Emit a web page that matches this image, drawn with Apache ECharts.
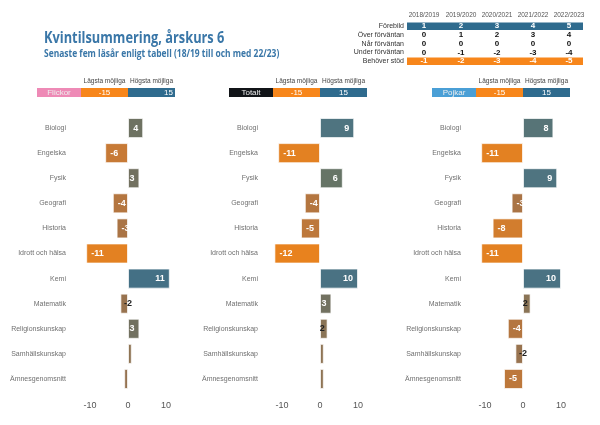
<!DOCTYPE html>
<html><head><meta charset="utf-8">
<script src="https://cdn.jsdelivr.net/npm/echarts@6/dist/echarts.min.js"></script>
<style>html,body{margin:0;padding:0;background:#fff}#c{width:600px;height:425px}</style>
</head><body><div id="c"></div>
<script>
var subjects = ['Biologi','Engelska','Fysik','Geografi','Historia','Idrott och hälsa','Kemi','Matematik','Religionskunskap','Samhällskunskap','Ämnesgenomsnitt'];
var flickor = [4,-6,3,-4,-3,-11,11,-2,3,1,-1];
var totalt  = [9,-11,6,-4,-5,-12,10,3,2,1,1];
var pojkar  = [8,-11,9,-3,-8,-11,10,2,-4,-2,-5];
var panelNames = ['Flickor','Totalt','Pojkar'];
var xTicks = [-10,0,10];
var years = ['2018/2019','2019/2020','2020/2021','2021/2022','2022/2023'];
var tableRows = ['Förebild','Över förväntan','Når förväntan','Under förväntan','Behöver stöd'];
var tableVals = [[1,2,3,4,5],[0,1,2,3,4],[0,0,0,0,0],[0,-1,-2,-3,-4],[-1,-2,-3,-4,-5]];
var lowest = -15, highest = 15;

var FONT = '"Liberation Sans", Arial, sans-serif';
var TFONT = '"Open Sans", sans-serif';
var stops = [[-12,'#E8821E'],[-6,'#C77A36'],[-3,'#AA7445'],[-2,'#98734F'],[2,'#8A7456'],[3,'#727160'],[6,'#667466'],[9,'#4F7480'],[12,'#3F6E88']];
function hex(c){return [parseInt(c.substr(1,2),16),parseInt(c.substr(3,2),16),parseInt(c.substr(5,2),16)];}
function colorFor(v){
  if(v<=stops[0][0]) return stops[0][1];
  for(var i=1;i<stops.length;i++){
    if(v<=stops[i][0]){
      var a=hex(stops[i-1][1]), b=hex(stops[i][1]);
      var t=(v-stops[i-1][0])/(stops[i][0]-stops[i-1][0]);
      return 'rgb('+a.map(function(x,k){return Math.round(x+(b[k]-x)*t);}).join(',')+')';
    }
  }
  return stops[stops.length-1][1];
}
function labelFor(v){
  var a=Math.abs(v);
  if(a<2) return {show:false};
  if(a===2) return {show:true, position:[v>0?'30%':'100%','50%'], align:'center', verticalAlign:'middle', color:'#222', fontWeight:'bold'};
  return {show:true, position: v>0?'insideRight':'insideLeft', color:'#fff', fontWeight:'bold', distance:5};
}
function items(vals){return vals.map(function(v){return {value:v,label:labelFor(v)};});}

var zeroX = [128, 320, 523];
var gridW = 114;
var grids=[], xAxes=[], yAxes=[], series=[];
var allVals=[flickor,totalt,pojkar];
for(var p=0;p<3;p++){
  grids.push({left: zeroX[p]-gridW/2, width: gridW, top: 115.5, height: 276});
  xAxes.push({type:'value', gridIndex:p, min:lowest, max:highest, interval:5,
    axisLine:{show:false}, axisTick:{show:false}, splitLine:{show:false},
    axisLabel:{margin:10, fontSize:9, color:'#555', fontFamily:FONT,
      formatter:function(v){return xTicks.indexOf(v)>=0? String(v):'';}}});
  yAxes.push({type:'category', gridIndex:p, data:subjects, inverse:true,
    axisLine:{show:false}, axisTick:{show:false},
    axisLabel:{margin:5, fontSize:7, color:'#707070', fontFamily:FONT}});
  series.push({type:'bar', xAxisIndex:p, yAxisIndex:p, data:items(allVals[p]), barWidth:'80%',
    itemStyle:{color:function(pr){return colorFor(pr.value);}, borderColor:'rgba(255,255,255,0.7)', borderWidth:1},
    label:{fontSize:9, fontFamily:FONT}});
}

var graphic=[];
graphic.push({type:'text', x:44, y:30, scaleX:0.8, style:{text:'Kvintilsummering, årskurs 6', font:'bold 16px '+TFONT, fill:'#3A77A8', verticalAlign:'top'}});
graphic.push({type:'text', x:44, y:49, scaleX:0.845, style:{text:'Senaste fem läsår enligt tabell (18/19 till och med 22/23)', font:'bold 10px '+TFONT, fill:'#3A77A8', verticalAlign:'top'}});
var nameColors=['#EE8AB6','#111418','#4A9FD6'];
var valAlign=['right','center','center'];
for(var p=0;p<3;p++){
  var z=zeroX[p];
  graphic.push({type:'rect', shape:{x:z-91,y:88,width:44,height:9}, style:{fill:nameColors[p]}});
  graphic.push({type:'rect', shape:{x:z-47,y:88,width:47,height:9}, style:{fill:'#F7861B'}});
  graphic.push({type:'rect', shape:{x:z,y:88,width:47,height:9}, style:{fill:'#2F6B8E'}});
  graphic.push({type:'text', x:z-69, y:92.5, style:{text:panelNames[p], font:'8px '+FONT, fill:'#eee', align:'center', verticalAlign:'middle'}});
  graphic.push({type:'text', x:z-23.5, y:92.5, style:{text:String(lowest), font:'8px '+FONT, fill:'#fff', align:'center', verticalAlign:'middle'}});
  var ax = valAlign[p]==='right'? z+45 : z+23.5;
  graphic.push({type:'text', x:ax, y:92.5, style:{text:String(highest), font:'8px '+FONT, fill:'#fff', align:valAlign[p], verticalAlign:'middle'}});
  graphic.push({type:'text', x:z-23.5, y:81, style:{text:'Lägsta möjliga', font:'6.5px '+FONT, fill:'#444', align:'center', verticalAlign:'middle'}});
  graphic.push({type:'text', x:z+23.5, y:81, style:{text:'Högsta möjliga', font:'6.5px '+FONT, fill:'#444', align:'center', verticalAlign:'middle'}});
}
// table
var colX=[424,461,497,533,569], rowY=[26,35,44,52.5,61];
graphic.push({type:'rect', shape:{x:407,y:22.5,width:176,height:7.5}, style:{fill:'#2F6B8E'}});
graphic.push({type:'rect', shape:{x:407,y:57.5,width:176,height:7.5}, style:{fill:'#F7861B'}});
years.forEach(function(y,i){graphic.push({type:'text', x:colX[i], y:15, style:{text:y, font:'6.5px '+FONT, fill:'#555', align:'center', verticalAlign:'middle'}});});
tableRows.forEach(function(r,j){
  graphic.push({type:'text', x:404, y:rowY[j], style:{text:r, font:'7px '+FONT, fill:'#333', align:'right', verticalAlign:'middle'}});
  tableVals[j].forEach(function(v,i){
    var band = j===0||j===tableRows.length-1;
    graphic.push({type:'text', x:colX[i], y:rowY[j], style:{text:String(v), font:'bold 8px '+FONT, fill: band?'#fff':'#111', align:'center', verticalAlign:'middle'}});
  });
});

var chart=echarts.init(document.getElementById('c'),null,{renderer:'canvas'});
chart.setOption({animation:false, grid:grids, xAxis:xAxes, yAxis:yAxes, series:series, graphic:graphic});
</script></body></html>
